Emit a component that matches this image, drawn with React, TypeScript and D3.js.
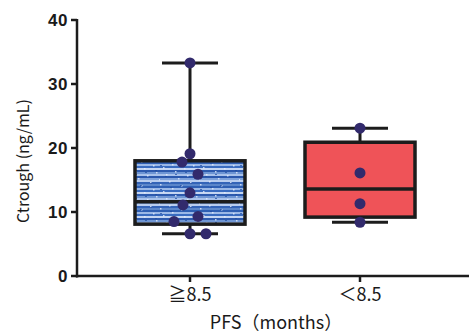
import React from "react";
import * as d3 from "d3";

const categories = ["≧8.5", "＜8.5"];
const boxStats = [
  { min: 6.6, q1: 8.1, median: 11.6, q3: 18.0, max: 33.3 },
  { min: 8.4, q1: 9.2, median: 13.6, q3: 20.9, max: 23.1 },
];
const pointsGroup1 = [
  { v: 33.3, dx: 0 }, { v: 19.1, dx: 0 }, { v: 17.8, dx: -8 }, { v: 15.9, dx: 8 },
  { v: 13.0, dx: 0 }, { v: 11.1, dx: -7 }, { v: 9.3, dx: 8 }, { v: 8.5, dx: -16 },
  { v: 6.6, dx: 0 }, { v: 6.6, dx: 16 },
];
const pointsGroup2 = [
  { v: 23.1, dx: 0 }, { v: 16.1, dx: 0 }, { v: 11.3, dx: 0 }, { v: 8.4, dx: 0 },
];
const yTicks = [0, 10, 20, 30, 40];

export default function App() {
  const W = 469, H = 334;
  const x0 = 77, yTop = 20, yBot = 276;
  const y = d3.scaleLinear().domain([0, 40]).range([yBot, yTop]);
  const x = d3.scalePoint<string>().domain(categories).range([190, 360]);
  const boxW = 110, capW = 56;
  const fills = ["url(#bluetex)", "#ef5358"];
  const pts = [pointsGroup1, pointsGroup2];
  const stroke = "#1c1c1c";

  const bands = [
    "#5b86c9", "#2f5fb3", "#9bb8e6", "#3a6cc0", "#c5d6f2", "#2d5aae", "#6f96d4",
    "#a9c2ea", "#2b58ad", "#7fa2da", "#b9cdef", "#3464b8",
  ];

  return (
    <svg width={W} height={H} style={{ position: "absolute", left: 0, top: 0, background: "#fff" }}>
      <defs>
        <pattern id="bluetex" patternUnits="userSpaceOnUse" x={0} y={160} width={40} height={24}>
          {bands.map((c, i) => (
            <rect key={i} x={0} y={i * 2} width={40} height={2} fill={c} />
          ))}
          {d3.range(0, 40, 3).map((px, i) => (
            <rect key={"d" + i} x={px} y={(i * 7) % 24} width={1.5} height={1.5} fill="#e6eefb" opacity={0.8} />
          ))}
          {d3.range(0, 40, 5).map((px, i) => (
            <rect key={"e" + i} x={px} y={(i * 11 + 5) % 24} width={2} height={1} fill="#1f4aa0" opacity={0.7} />
          ))}
        </pattern>
      </defs>

      <line x1={x0} x2={x0} y1={yTop - 1} y2={yBot + 1.5} stroke={stroke} strokeWidth={2.5} />
      <line x1={x0 - 1} x2={W} y1={yBot} y2={yBot} stroke={stroke} strokeWidth={2.5} />
      {yTicks.map((t) => (
        <g key={t}>
          <line x1={x0 - 6} x2={x0} y1={y(t)} y2={y(t)} stroke={stroke} strokeWidth={2.5} />
          <text x={x0 - 9} y={y(t)} dy="0.36em" textAnchor="end" fontFamily="Liberation Sans, Arial, sans-serif"
            fontWeight="bold" fontSize={17} letterSpacing={0.5} fill="#1a1a1a">{t}</text>
        </g>
      ))}
      {categories.map((c) => (
        <g key={c}>
          <line x1={x(c)!} x2={x(c)!} y1={yBot} y2={yBot + 6} stroke={stroke} strokeWidth={2.5} />
          <text x={x(c)!} y={yBot + 25} textAnchor="middle" fontFamily="Noto Sans CJK JP" fontSize={18} fill="#1a1a1a">{c}</text>
        </g>
      ))}
      <text x={276} y={329} textAnchor="middle" fontFamily="Noto Sans CJK JP" fontSize={18} fill="#1a1a1a">PFS（months）</text>
      <text transform={`translate(29,${161}) rotate(-90)`} textAnchor="middle" fontFamily="Noto Sans CJK JP"
        fontSize={16} fill="#1a1a1a">Ctrough (ng/mL)</text>

      {categories.map((c, i) => {
        const s = boxStats[i];
        const cx = x(c)!;
        return (
          <g key={c}>
            <line x1={cx} x2={cx} y1={y(s.max)} y2={y(s.q3)} stroke={stroke} strokeWidth={3} />
            <line x1={cx} x2={cx} y1={y(s.q1)} y2={y(s.min)} stroke={stroke} strokeWidth={3} />
            <line x1={cx - capW / 2} x2={cx + capW / 2} y1={y(s.max)} y2={y(s.max)} stroke={stroke} strokeWidth={3} />
            <line x1={cx - capW / 2} x2={cx + capW / 2} y1={y(s.min)} y2={y(s.min)} stroke={stroke} strokeWidth={3} />
            <rect x={cx - boxW / 2} y={y(s.q3)} width={boxW} height={y(s.q1) - y(s.q3)} fill={fills[i]}
              stroke={stroke} strokeWidth={3.5} />
            <line x1={cx - boxW / 2} x2={cx + boxW / 2} y1={y(s.median)} y2={y(s.median)} stroke={stroke} strokeWidth={3.5} />
          </g>
        );
      })}

      {categories.map((c, i) =>
        pts[i].map((p, j) => (
          <circle key={c + j} cx={x(c)! + p.dx} cy={y(p.v)} r={5.5} fill="#322a6c" />
        ))
      )}
    </svg>
  );
}
